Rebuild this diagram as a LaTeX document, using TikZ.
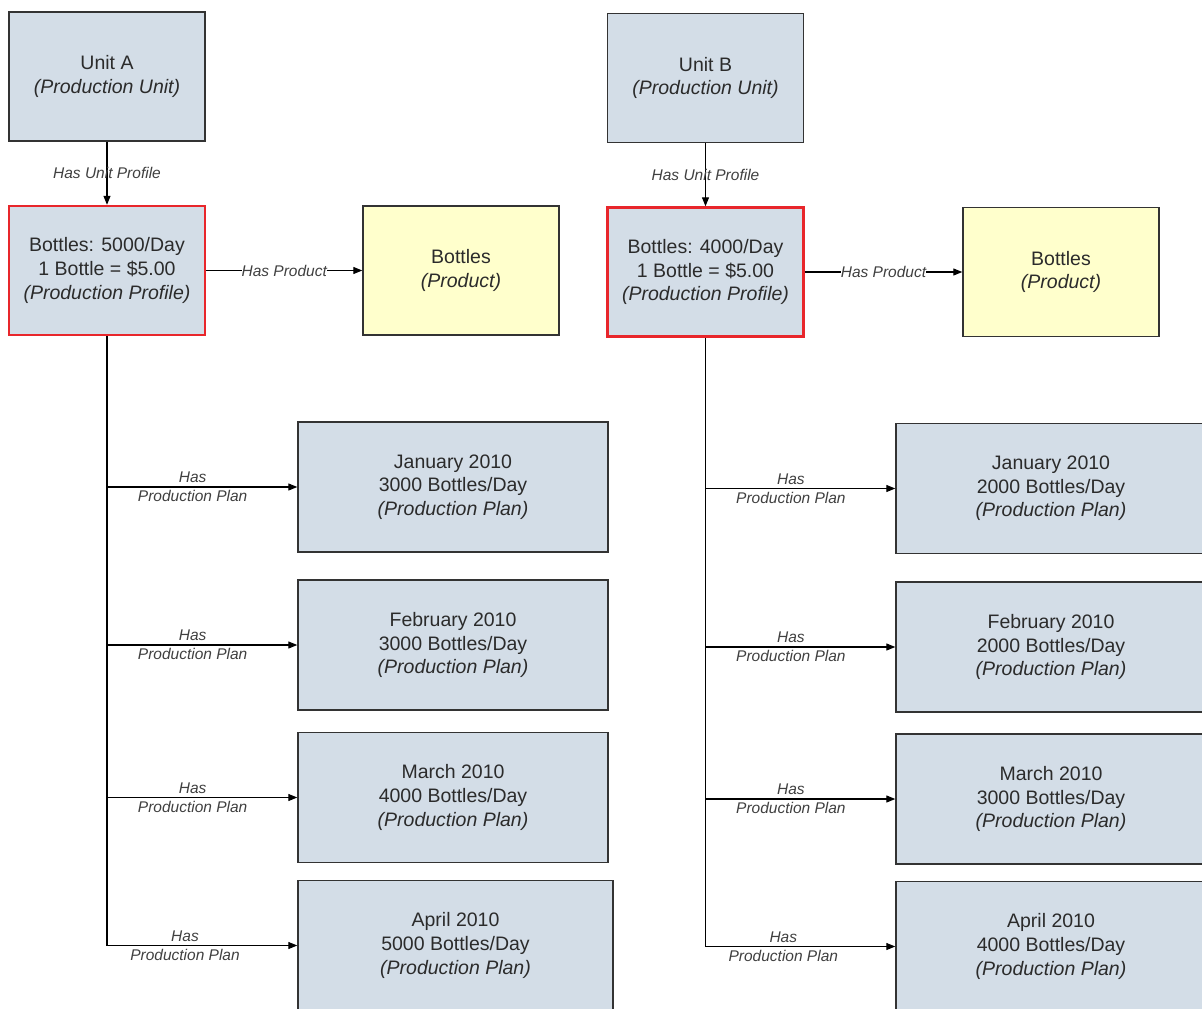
\documentclass[tikz,border=0pt]{standalone}
\usepackage{fontspec}
\setmainfont{Liberation Sans}
\usetikzlibrary{arrows.meta, positioning}
\definecolor{unitfill}{HTML}{D3DDE7}
\definecolor{prodfill}{HTML}{FFFFCC}
\definecolor{edgegrey}{HTML}{333333}
\definecolor{profred}{HTML}{E8262B}
\definecolor{txtgrey}{HTML}{2B2B2B}
\tikzset{
  >={Triangle[length=9pt, width=7pt]},
  box/.style={rectangle, draw=edgegrey, line width=1.4pt, fill=unitfill, align=center,
              text=txtgrey, inner sep=0pt, minimum width=196pt, minimum height=129pt,
              font=\fontsize{19.5}{23.6}\selectfont},
  boxr/.style={box, draw=profred, line width=2.4pt},
  boxy/.style={box, fill=prodfill},
  plan/.style={box, minimum width=310pt, minimum height=130pt},
  flow/.style={->, line width=1.1pt, draw=black},
  lbl/.style={font=\fontsize{15.5}{19}\selectfont\itshape, text=black!75, align=center, inner sep=1pt},
}

\begin{document}
\begin{tikzpicture}[x=1pt, y=-1pt]
  \useasboundingbox (0,0) rectangle (1202,1009);
  \clip (0,0) rectangle (1202,1009);
  \fill[white] (0,0) rectangle (1202,1009);
  % unit A
  \node[box] (unitA) at (107,76.5) {Unit A\\\textit{(Production Unit)}};
  \node[boxr] (profA) at (107,270.5) {Bottles: 5000/Day\\1 Bottle = \$5.00\\\textit{(Production Profile)}};
  \node[boxy] (prodA) at (461,270.5) {Bottles\\\textit{(Product)}};
  \node[plan] (janA) at (453,487) {January 2010\\3000 Bottles/Day\\\textit{(Production Plan)}};
  \node[plan] (febA) at (453,645) {February 2010\\3000 Bottles/Day\\\textit{(Production Plan)}};
  \node[plan] (marA) at (453,797.5) {March 2010\\4000 Bottles/Day\\\textit{(Production Plan)}};
  \node[plan, minimum width=315pt] (aprA) at (455.5,945.5) {April 2010\\5000 Bottles/Day\\\textit{(Production Plan)}};
  % unit B
  \node[box] (unitB) at (705.5,78) {Unit B\\\textit{(Production Unit)}};
  \node[boxr] (profB) at (705.5,272) {Bottles: 4000/Day\\1 Bottle = \$5.00\\\textit{(Production Profile)}};
  \node[boxy] (prodB) at (1061,272) {Bottles\\\textit{(Product)}};
  \node[plan] (janB) at (1051,488.5) {January 2010\\2000 Bottles/Day\\\textit{(Production Plan)}};
  \node[plan] (febB) at (1051,647) {February 2010\\2000 Bottles/Day\\\textit{(Production Plan)}};
  \node[plan] (marB) at (1051,799) {March 2010\\3000 Bottles/Day\\\textit{(Production Plan)}};
  \node[plan] (aprB) at (1051,946.5) {April 2010\\4000 Bottles/Day\\\textit{(Production Plan)}};
  % links A
  \draw[flow] (unitA) -- node[lbl]{Has Unit Profile} (profA);
  \draw[flow] (profA) -- node[lbl, fill=white, inner sep=0pt]{Has Product} (prodA);
  \draw[line width=1.1pt] (profA.south) -- (profA.south |- aprA.west);
  \draw[flow] (profA.south |- janA.west) -- node[lbl, pos=0.45]{Has\\Production Plan} (janA.west);
  \draw[flow] (profA.south |- febA.west) -- node[lbl, pos=0.45]{Has\\Production Plan} (febA.west);
  \draw[flow] (profA.south |- marA.west) -- node[lbl, pos=0.45]{Has\\Production Plan} (marA.west);
  \draw[flow] (profA.south |- aprA.west) -- node[lbl, pos=0.41]{Has\\Production Plan} (aprA.west);
  % links B
  \draw[flow] (unitB) -- node[lbl]{Has Unit Profile} (profB);
  \draw[flow] (profB) -- node[lbl, fill=white, inner sep=0pt]{Has Product} (prodB);
  \draw[line width=1.1pt] (profB.south) -- (profB.south |- aprB.west);
  \draw[flow] (profB.south |- janB.west) -- node[lbl, pos=0.45]{Has\\Production Plan} (janB.west);
  \draw[flow] (profB.south |- febB.west) -- node[lbl, pos=0.45]{Has\\Production Plan} (febB.west);
  \draw[flow] (profB.south |- marB.west) -- node[lbl, pos=0.45]{Has\\Production Plan} (marB.west);
  \draw[flow] (profB.south |- aprB.west) -- node[lbl, pos=0.41]{Has\\Production Plan} (aprB.west);
\end{tikzpicture}
\end{document}
